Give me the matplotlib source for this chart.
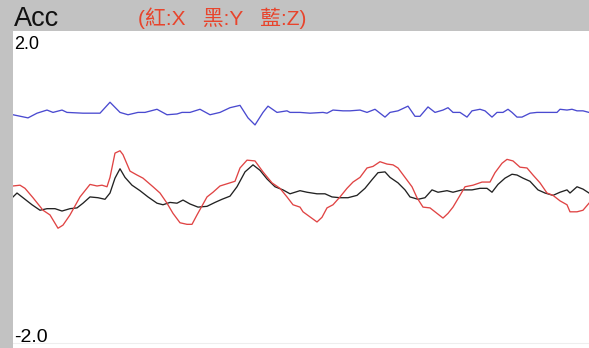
import matplotlib.pyplot as plt

# accelerometer traces, x/y/z in g, sampled along the strip
t_z = [0, 15, 24, 34, 40, 49, 54, 70, 87, 97, 107, 115, 125, 132, 144, 154, 164, 169,
       177, 187, 197, 207, 217, 227, 235, 242, 250, 255, 264, 274, 277,
       287, 297, 310, 314, 320, 330, 337, 347, 354, 362, 372, 377, 385, 395, 402,
       407, 415, 422, 430, 435, 440, 447, 454, 459, 467, 472, 479, 484, 490, 495,
       499, 504, 509, 517, 524, 534, 544, 547, 554, 559, 564, 570, 576]
acc_z = [0.93, 0.89, 0.95, 0.99, 0.96, 0.99, 0.96, 0.95, 0.95, 1.09, 0.96, 0.93, 0.96,
         0.96, 1.00, 0.93, 0.94, 0.96, 0.96, 1.00, 0.93, 0.96, 1.02, 1.05, 0.89, 0.80,
         0.96, 1.04, 0.96, 0.98, 0.96,
         0.96, 0.95, 0.96, 0.95, 0.99, 0.98, 0.98, 0.99, 0.96, 1.00, 0.90, 0.96, 0.98,
         1.04, 0.91, 0.91, 1.03, 0.96, 0.99, 1.02, 0.96, 0.96, 0.90, 0.98, 1.00, 0.98,
         0.90, 0.96, 0.96, 1.00, 0.96, 0.90, 0.90, 0.95, 0.96, 0.96, 0.96, 1.00, 0.99,
         1.00, 0.98, 0.98, 0.96]

t_x = [0, 7, 12, 20, 30, 37, 45, 50, 57, 67, 77, 84, 89, 94, 97, 102, 107, 110, 117,
       124, 130, 140, 147, 154, 160, 167, 174, 179, 184, 194, 200, 207, 217, 222, 227,
       234, 242, 250, 259, 267, 274, 280, 287, 290, 304, 309, 314, 320, 327, 334, 340,
       347, 354, 360, 367, 374, 380, 385, 392, 399, 404, 410, 417, 424, 430, 435, 440,
       447, 452, 460, 469, 477, 482, 489, 494, 500, 507, 514, 520, 527, 534, 540, 547,
       554, 557, 564, 570, 576]
acc_x = [0.02, 0.03, -0.01, -0.13, -0.29, -0.35, -0.52, -0.48, -0.35, -0.12, 0.04, 0.02,
         0.03, 0.01, 0.13, 0.44, 0.47, 0.42, 0.21, 0.16, 0.12, 0.01, -0.07, -0.20, -0.33,
         -0.45, -0.47, -0.47, -0.35, -0.12, -0.06, 0.02, 0.06, 0.08, 0.25, 0.35, 0.34,
         0.20, 0.06, -0.01, -0.12, -0.22, -0.25, -0.31, -0.44, -0.38, -0.26, -0.22, -0.12,
         -0.01, 0.07, 0.13, 0.25, 0.27, 0.33, 0.30, 0.29, 0.25, 0.13, 0.01, -0.13, -0.25,
         -0.26, -0.33, -0.39, -0.33, -0.25, -0.10, 0.01, 0.03, 0.07, 0.07, 0.19, 0.31,
         0.36, 0.34, 0.26, 0.25, 0.16, 0.06, -0.07, -0.10, -0.17, -0.22, -0.31, -0.31,
         -0.29, -0.20]

t_y = [0, 4, 10, 19, 27, 34, 42, 49, 57, 64, 70, 77, 85, 92, 97, 102, 107, 112, 119,
       127, 135, 144, 150, 157, 164, 170, 177, 185, 194, 202, 209, 217, 224, 232, 240,
       247, 254, 262, 270, 277, 287, 294, 304, 312, 319, 327, 335, 344, 352, 359, 365,
       372, 377, 385, 392, 397, 405, 412, 419, 425, 434, 440, 449, 459, 467, 474, 479,
       485, 492, 499, 504, 510, 517, 525, 532, 540, 547, 554, 557, 564, 570, 576]
acc_y = [-0.12, -0.07, -0.13, -0.22, -0.29, -0.27, -0.27, -0.30, -0.27, -0.26, -0.20,
         -0.12, -0.13, -0.15, -0.07, 0.12, 0.24, 0.13, 0.03, -0.04, -0.12, -0.20, -0.22,
         -0.19, -0.20, -0.16, -0.21, -0.25, -0.24, -0.19, -0.15, -0.11, 0.01, 0.20, 0.29,
         0.22, 0.11, 0.01, -0.03, -0.08, -0.04, -0.06, -0.08, -0.08, -0.12, -0.13, -0.13,
         -0.10, -0.01, 0.10, 0.19, 0.20, 0.13, 0.06, -0.03, -0.12, -0.15, -0.13, -0.03,
         -0.06, -0.04, -0.06, -0.03, -0.03, -0.01, -0.01, -0.06, 0.04, 0.12, 0.17, 0.16,
         0.12, 0.08, -0.03, -0.07, -0.10, -0.06, -0.03, -0.07, 0.01, -0.02, -0.07]

y_top, y_bottom = 2.0, -2.05

fig = plt.figure(figsize=(5.89, 3.48), dpi=100, facecolor='#c2c2c2')
ax = fig.add_axes([13 / 589, 0, 1 - 13 / 589, 317 / 348])
ax.set_facecolor('white')

ax.plot(t_z, acc_z, color='#4a4ad0', lw=0.95)
ax.plot(t_y, acc_y, color='#222222', lw=0.95)
ax.plot(t_x, acc_x, color='#e04444', lw=0.95)
ax.axhline(-1.99, color='#eeeeee', lw=0.8)

ax.set_xlim(0, 576)
ax.set_ylim(y_bottom, y_top)
for s in ax.spines.values():
    s.set_visible(False)
ax.set_xticks([])
ax.set_yticks([])

ax.text(0.002, 0.985, '2.0', transform=ax.transAxes, ha='left', va='top',
        fontsize=13, family='Liberation Sans', color='black')
ax.text(0.002, 0.006, '-2.0', transform=ax.transAxes, ha='left', va='bottom',
        fontsize=14, family='Liberation Sans', color='black')

fig.text(14 / 589, 1 - 26 / 348, 'Acc', ha='left', va='baseline', fontsize=19.5,
         family='Liberation Sans', color='#111111')
fig.text(138 / 589, 1 - 25 / 348, '(紅:X   黑:Y   藍:Z)', ha='left', va='baseline',
         fontsize=15, family=['Liberation Sans', 'Noto Sans CJK TC'], color='#e8442c')

fig.savefig('out.png', dpi=100, facecolor=fig.get_facecolor())
